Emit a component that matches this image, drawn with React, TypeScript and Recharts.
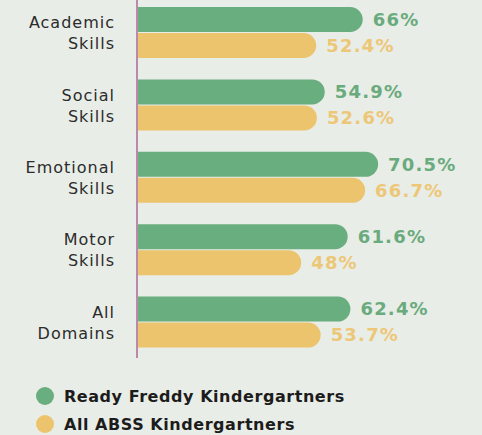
import React from 'react';
import { BarChart, Bar, XAxis, YAxis, LabelList } from 'recharts';

const categories = ['Academic\nSkills', 'Social\nSkills', 'Emotional\nSkills', 'Motor\nSkills', 'All\nDomains'];
const readyFreddy = [66, 54.9, 70.5, 61.6, 62.4];
const allAbss = [52.4, 52.6, 66.7, 48, 53.7];
const seriesNames = ['Ready Freddy Kindergartners', 'All ABSS Kindergartners'];

const GREEN = '#69ae7e';
const YELLOW = '#ecc46e';
const GREEN_TEXT = '#6aab7e';
const YELLOW_TEXT = '#edc778';
const BG = '#e9ede7';
const FONT = '"DejaVu Sans", sans-serif';

const data = categories.map((name, i) => ({
  name,
  rf: readyFreddy[i],
  abss: allAbss[i],
}));

const CategoryTick = (props: any) => {
  const { x, y, payload } = props;
  const lines = String(payload.value).split('\n');
  return (
    <g>
      {lines.map((line, i) => (
        <text
          key={i}
          x={x - 14}
          y={y - 4 + i * 21}
          textAnchor="end"
          fill="#2b2b2b"
          fontSize={16}
          fontFamily={FONT}
          letterSpacing={1}
        >
          {line}
        </text>
      ))}
    </g>
  );
};

const LegendBlock = () => (
  <div style={{ position: 'absolute', left: 36, top: 382, fontFamily: FONT }}>
    {seriesNames.map((n, i) => (
      <div key={n} style={{ display: 'flex', alignItems: 'center', height: 28 }}>
        <span
          style={{
            display: 'inline-block',
            width: 18,
            height: 18,
            borderRadius: 9,
            background: i === 0 ? GREEN : YELLOW,
            marginRight: 10,
          }}
        />
        <span style={{ fontWeight: 'bold', fontSize: 16, color: '#1c1c1c', letterSpacing: 0.55 }}>{n}</span>
      </div>
    ))}
  </div>
);

const App = () => {
  return (
    <div style={{ position: 'absolute', left: 0, top: 0, width: 482, height: 435, background: BG }}>
      <BarChart
        width={482}
        height={435}
        data={data}
        layout="vertical"
        margin={{ top: -4, right: 3, left: 0, bottom: 77 }}
        barGap={1}
        barCategoryGap={10}
      >
        <XAxis type="number" domain={[0, 100]} hide />
        <YAxis
          type="category"
          dataKey="name"
          width={137}
          axisLine={{ stroke: '#b98aa9', strokeWidth: 2 }}
          tickLine={false}
          tick={<CategoryTick />}
        />
        <Bar dataKey="rf" name={seriesNames[0]} fill={GREEN} barSize={25} radius={[0, 12.5, 12.5, 0]} isAnimationActive={false}>
          <LabelList
            dataKey="rf"
            position="right"
            offset={10}
            formatter={(v: any) => `${v}%`}
            fill={GREEN_TEXT}
            fontSize={18}
            fontWeight="bold"
            fontFamily={FONT}
            letterSpacing={1.2}
          />
        </Bar>
        <Bar dataKey="abss" name={seriesNames[1]} fill={YELLOW} barSize={25} radius={[0, 12.5, 12.5, 0]} isAnimationActive={false}>
          <LabelList
            dataKey="abss"
            position="right"
            offset={10}
            formatter={(v: any) => `${v}%`}
            fill={YELLOW_TEXT}
            fontSize={18}
            fontWeight="bold"
            fontFamily={FONT}
            letterSpacing={1.2}
          />
        </Bar>
      </BarChart>
      <LegendBlock />
    </div>
  );
};

export default App;
